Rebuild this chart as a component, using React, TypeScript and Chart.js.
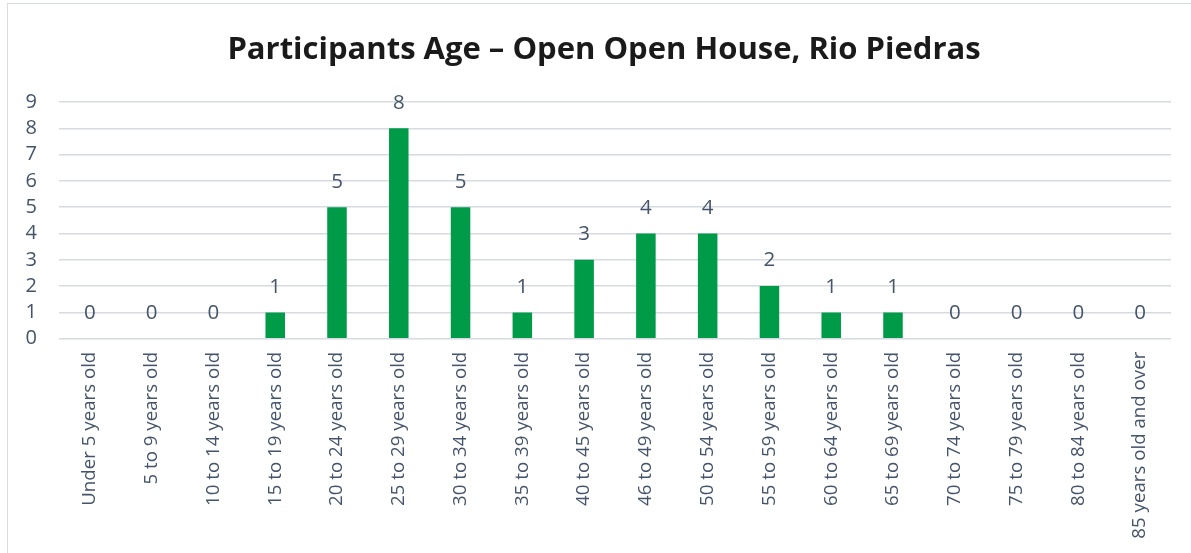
import React, { useEffect, useRef } from "react";
import { Chart, registerables } from "chart.js";

Chart.register(...registerables);

const TITLE = "Participants Age – Open Open House, Rio Piedras";
const categories = [
  "Under 5 years old",
  "5 to 9 years old",
  "10 to 14 years old",
  "15 to 19 years old",
  "20 to 24 years old",
  "25 to 29 years old",
  "30 to 34 years old",
  "35 to 39 years old",
  "40 to 45 years old",
  "46 to 49 years old",
  "50 to 54 years old",
  "55 to 59 years old",
  "60 to 64 years old",
  "65 to 69 years old",
  "70 to 74 years old",
  "75 to 79 years old",
  "80 to 84 years old",
  "85 years old and over",
];
const participants = [0, 0, 0, 1, 5, 8, 5, 1, 3, 4, 4, 2, 1, 1, 0, 0, 0, 0];
const yTicks = [0, 1, 2, 3, 4, 5, 6, 7, 8, 9];

const FONT = "'Open Sans', sans-serif";
const TEXT = "#44546A";
const GRID = "#D6DAE2";
const GREEN = "#009B48";

const W = 1191;
const H = 553;

const titlePlugin = {
  id: "customTitle",
  afterDraw(chart: any) {
    const ctx = chart.ctx;
    ctx.save();
    ctx.font = `bold 31px ${FONT}`;
    ctx.fillStyle = "#1A1A1A";
    ctx.textAlign = "center";
    ctx.textBaseline = "alphabetic";
    ctx.fillText(TITLE, 604, 58.5);
    ctx.restore();
  },
};

const valueLabels = {
  id: "valueLabels",
  afterDatasetsDraw(chart: any) {
    const ctx = chart.ctx;
    const meta = chart.getDatasetMeta(0);
    const data = chart.data.datasets[0].data;
    ctx.save();
    ctx.font = `20.5px ${FONT}`;
    ctx.fillStyle = TEXT;
    ctx.textAlign = "center";
    ctx.textBaseline = "middle";
    meta.data.forEach((bar: any, i: number) => {
      ctx.fillText(String(data[i]), bar.x, bar.y - 25.5);
    });
    ctx.restore();
  },
};

export default function App() {
  const ref = useRef<HTMLCanvasElement>(null);
  useEffect(() => {
    if (!ref.current) return;
    const chart = new Chart(ref.current, {
      type: "bar",
      data: {
        labels: categories,
        datasets: [
          {
            data: participants,
            backgroundColor: GREEN,
            borderWidth: 0,
            categoryPercentage: 1,
            barPercentage: 0.316,
          },
        ],
      },
      options: {
        animation: false,
        responsive: false,
        devicePixelRatio: 1,
        layout: { padding: { top: 102, left: 0, right: 20, bottom: 0 } },
        plugins: {
          legend: { display: false },
          title: { display: false },
          tooltip: { enabled: false },
        },
        scales: {
          x: {
            grid: { display: false, drawTicks: false },
            border: { display: false },
            ticks: {
              autoSkip: false,
              minRotation: 90,
              maxRotation: 90,
              padding: 13,
              color: TEXT,
              font: { family: FONT, size: 18.7 },
            },
            afterFit: (s: any) => {
              s.height = 214.3;
            },
          },
          y: {
            min: 0,
            max: 9,
            grid: { color: GRID, lineWidth: 1.6, drawTicks: false },
            border: { display: false },
            afterBuildTicks: (s: any) => {
              s.ticks = yTicks.map((v) => ({ value: v }));
            },
            ticks: {
              autoSkip: false,
              stepSize: 1,
              padding: 22,
              color: TEXT,
              font: { family: FONT, size: 20 },
            },
            afterFit: (s: any) => {
              s.width = 59;
            },
          },
        },
      },
      plugins: [titlePlugin, valueLabels],
    });
    return () => chart.destroy();
  }, []);

  return (
    <div
      style={{
        position: "fixed",
        left: 0,
        top: 0,
        width: W,
        height: H,
        overflow: "hidden",
        background: "#fff",
      }}
    >
      <div
        style={{
          position: "absolute",
          left: 7,
          top: 3,
          width: W + 20,
          height: H + 20,
          borderLeft: "1.5px solid #D9DCE2",
          borderTop: "1.5px solid #D9DCE2",
        }}
      />
      <canvas
        ref={ref}
        width={W}
        height={H}
        style={{ position: "absolute", left: 0, top: 0, width: W, height: H }}
      />
    </div>
  );
}
